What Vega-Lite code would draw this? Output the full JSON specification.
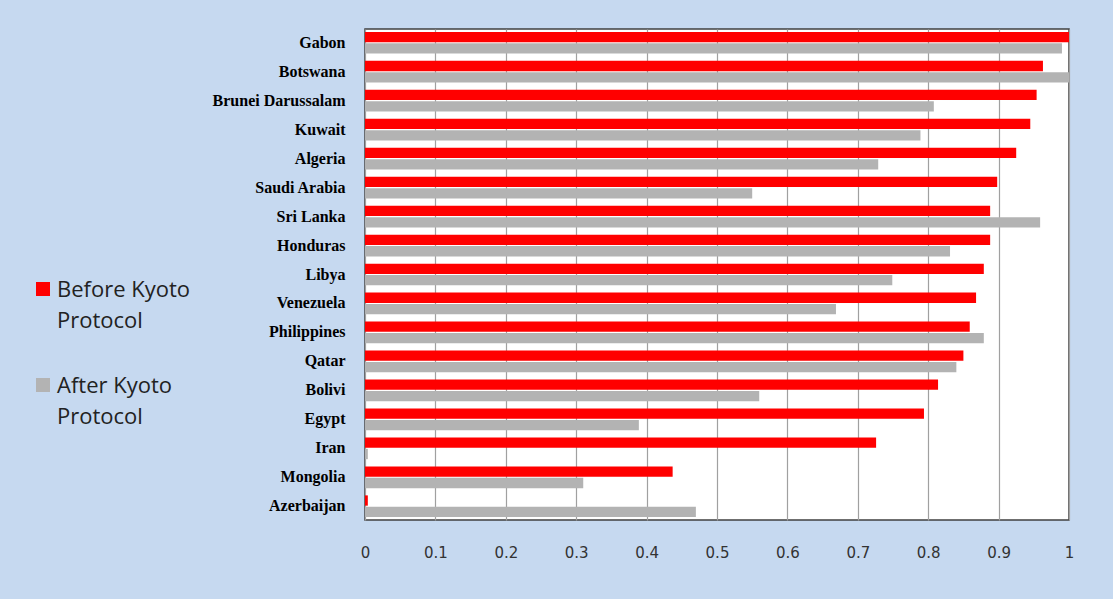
{
  "$schema": "https://vega.github.io/schema/vega-lite/v6.json",
  "autosize": {"type": "none"},
  "padding": {"left": 365, "top": 29, "right": 44, "bottom": 79},
  "width": 704,
  "height": 491,
  "background": "#c6d9f0",
  "data": {
    "values": [
      {"country": "Gabon", "period": "Before Kyoto Protocol", "value": 1.0},
      {"country": "Gabon", "period": "After Kyoto Protocol", "value": 0.99},
      {"country": "Botswana", "period": "Before Kyoto Protocol", "value": 0.963},
      {"country": "Botswana", "period": "After Kyoto Protocol", "value": 1.0},
      {"country": "Brunei Darussalam", "period": "Before Kyoto Protocol", "value": 0.954},
      {"country": "Brunei Darussalam", "period": "After Kyoto Protocol", "value": 0.808},
      {"country": "Kuwait", "period": "Before Kyoto Protocol", "value": 0.945},
      {"country": "Kuwait", "period": "After Kyoto Protocol", "value": 0.789},
      {"country": "Algeria", "period": "Before Kyoto Protocol", "value": 0.925},
      {"country": "Algeria", "period": "After Kyoto Protocol", "value": 0.729},
      {"country": "Saudi Arabia", "period": "Before Kyoto Protocol", "value": 0.898},
      {"country": "Saudi Arabia", "period": "After Kyoto Protocol", "value": 0.55},
      {"country": "Sri Lanka", "period": "Before Kyoto Protocol", "value": 0.888},
      {"country": "Sri Lanka", "period": "After Kyoto Protocol", "value": 0.959},
      {"country": "Honduras", "period": "Before Kyoto Protocol", "value": 0.888},
      {"country": "Honduras", "period": "After Kyoto Protocol", "value": 0.831},
      {"country": "Libya", "period": "Before Kyoto Protocol", "value": 0.879},
      {"country": "Libya", "period": "After Kyoto Protocol", "value": 0.749},
      {"country": "Venezuela", "period": "Before Kyoto Protocol", "value": 0.868},
      {"country": "Venezuela", "period": "After Kyoto Protocol", "value": 0.669},
      {"country": "Philippines", "period": "Before Kyoto Protocol", "value": 0.859},
      {"country": "Philippines", "period": "After Kyoto Protocol", "value": 0.879},
      {"country": "Qatar", "period": "Before Kyoto Protocol", "value": 0.85},
      {"country": "Qatar", "period": "After Kyoto Protocol", "value": 0.84},
      {"country": "Bolivi", "period": "Before Kyoto Protocol", "value": 0.814},
      {"country": "Bolivi", "period": "After Kyoto Protocol", "value": 0.56},
      {"country": "Egypt", "period": "Before Kyoto Protocol", "value": 0.794},
      {"country": "Egypt", "period": "After Kyoto Protocol", "value": 0.389},
      {"country": "Iran", "period": "Before Kyoto Protocol", "value": 0.726},
      {"country": "Iran", "period": "After Kyoto Protocol", "value": 0.004},
      {"country": "Mongolia", "period": "Before Kyoto Protocol", "value": 0.437},
      {"country": "Mongolia", "period": "After Kyoto Protocol", "value": 0.31},
      {"country": "Azerbaijan", "period": "Before Kyoto Protocol", "value": 0.004},
      {"country": "Azerbaijan", "period": "After Kyoto Protocol", "value": 0.47}
    ]
  },
  "mark": {"type": "bar"},
  "encoding": {
    "y": {
      "field": "country",
      "type": "nominal",
      "sort": null,
      "scale": {"paddingInner": 0.25, "paddingOuter": 0.1},
      "axis": {
        "title": null,
        "ticks": false,
        "domain": false,
        "labelPadding": 20,
        "labelFont": "Liberation Serif",
        "labelFontWeight": "bold",
        "labelFontSize": 16,
        "labelColor": "#000000",
        "labelLimit": 300
      }
    },
    "yOffset": {
      "field": "period",
      "type": "nominal",
      "sort": ["Before Kyoto Protocol", "After Kyoto Protocol"],
      "scale": {"paddingInner": 0.1}
    },
    "x": {
      "field": "value",
      "type": "quantitative",
      "scale": {"domain": [0, 1], "nice": false},
      "axis": {
        "title": null,
        "values": [0, 0.1, 0.2, 0.3, 0.4, 0.5, 0.6, 0.7, 0.8, 0.9, 1],
        "labelExpr": "'' + round(datum.value * 10) / 10",
        "labelFlush": false,
        "ticks": false,
        "domain": false,
        "grid": true,
        "gridColor": "#a0a0a0",
        "gridWidth": 1.2,
        "labelPadding": 25,
        "labelFont": "DejaVu Sans",
        "labelFontSize": 15,
        "labelColor": "#333333",
        "labelBaseline": "top"
      }
    },
    "color": {
      "field": "period",
      "type": "nominal",
      "sort": ["Before Kyoto Protocol", "After Kyoto Protocol"],
      "scale": {
        "domain": ["Before Kyoto Protocol", "After Kyoto Protocol"],
        "range": ["#ff0000", "#b3b3b3"]
      },
      "legend": {
        "title": null,
        "orient": "none",
        "legendX": -333,
        "legendY": 257,
        "padding": 0,
        "symbolType": "M-1,-2.14H1V-0.14H-1Z",
        "symbolSize": 196,
        "symbolStrokeWidth": 0,
        "symbolOpacity": 1,
        "labelFont": "Open Sans",
        "labelFontSize": 22,
        "labelColor": "#222222",
        "labelBaseline": "alphabetic",
        "labelOffset": 3,
        "labelLimit": 300,
        "rowPadding": 43,
        "labelExpr": "datum.label == 'Before Kyoto Protocol' ? ['Before Kyoto', 'Protocol'] : ['After Kyoto', 'Protocol']"
      }
    }
  },
  "config": {
    "view": {"fill": "#ffffff", "stroke": "#404040", "strokeWidth": 1.5},
    "style": {"guide-label": {"lineHeight": 31}}
  }
}
